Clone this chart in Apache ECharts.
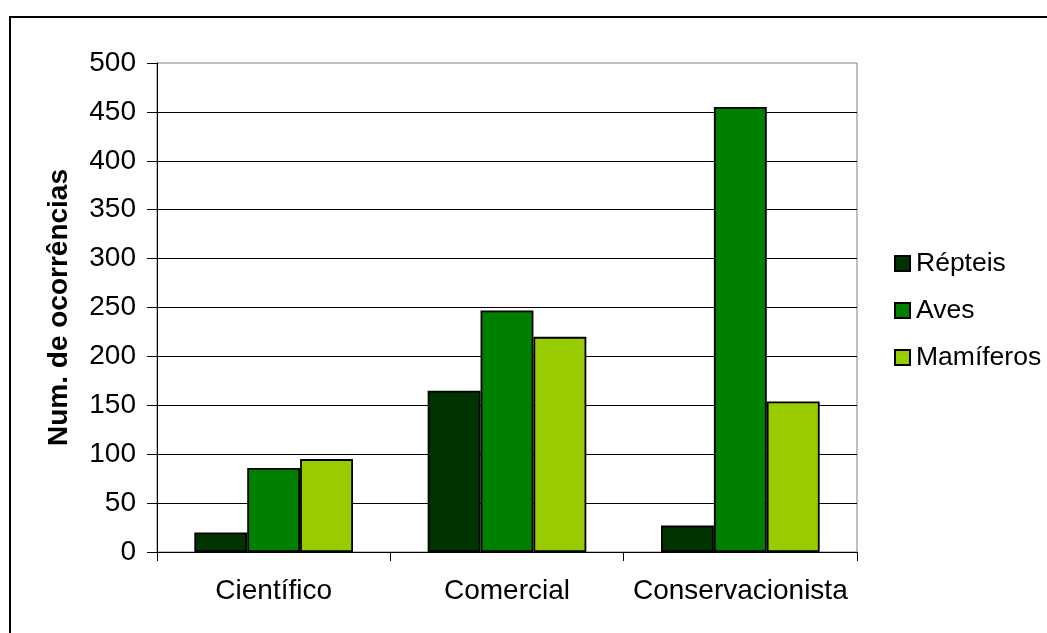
<!DOCTYPE html>
<html>
<head>
<meta charset="utf-8">
<script src="https://cdn.jsdelivr.net/npm/echarts@6/dist/echarts.min.js"></script>
<style>
html,body{margin:0;padding:0;background:#fff;}
#c{width:1047px;height:633px;}
</style>
</head>
<body>
<div id="c"></div>
<script>
var categories = ['Científico', 'Comercial', 'Conservacionista'];
var seriesNames = ['Répteis', 'Aves', 'Mamíferos'];
var repteis = [20, 165, 27];
var aves = [86, 247, 455];
var mamiferos = [95, 220, 154];
var yTicks = [0, 50, 100, 150, 200, 250, 300, 350, 400, 450, 500];
var colors = ['#003300', '#008000', '#99CC00'];

var chart = echarts.init(document.getElementById('c'));
var font = 'Liberation Sans, Arial, sans-serif';
var values = [repteis, aves, mamiferos];

chart.setOption({
  backgroundColor: '#ffffff',
  animation: false,
  textStyle: { fontFamily: font },
  graphic: [{
    type: 'rect',
    shape: { x: 10, y: 17, width: 1200, height: 1000 },
    style: { fill: 'none', stroke: '#000', lineWidth: 2 },
    z: -10
  }],
  grid: {
    left: 157, top: 63, right: 190, bottom: 81,
    show: true, borderColor: '#808080', borderWidth: 1, backgroundColor: 'transparent'
  },
  legend: {
    orient: 'vertical',
    left: 889, top: 245,
    itemWidth: 15, itemHeight: 15, itemGap: 20,
    icon: 'rect',
    data: seriesNames,
    textStyle: { fontFamily: font, fontSize: 26.5, color: '#000', padding: [0, 0, 0, 1] }
  },
  xAxis: {
    type: 'category',
    data: categories,
    axisLine: { lineStyle: { color: '#000', width: 1 } },
    axisTick: { show: true, length: 9, lineStyle: { color: '#000' } },
    axisLabel: { fontFamily: font, fontSize: 28, color: '#000', margin: 25, interval: 0 }
  },
  yAxis: {
    type: 'value',
    min: yTicks[0], max: yTicks[yTicks.length - 1], interval: 50,
    name: 'Num. de ocorrências',
    nameLocation: 'middle',
    nameGap: 84,
    nameTextStyle: { fontFamily: font, fontSize: 28, fontWeight: 'bold', color: '#000' },
    axisLine: { show: true, lineStyle: { color: '#000', width: 1 } },
    axisTick: { show: true, length: 10, lineStyle: { color: '#000' } },
    axisLabel: { fontFamily: font, fontSize: 28, color: '#000', margin: 21 },
    splitLine: { show: true, showMaxLine: false, lineStyle: { color: '#000', width: 1 } }
  },
  series: seriesNames.map(function (n, i) {
    return {
      name: n,
      type: 'bar',
      data: values[i],
      barGap: '0%',
      barCategoryGap: '32%',
      itemStyle: { color: colors[i], borderColor: '#000', borderWidth: 1.8 }
    };
  })
});
</script>
</body>
</html>
